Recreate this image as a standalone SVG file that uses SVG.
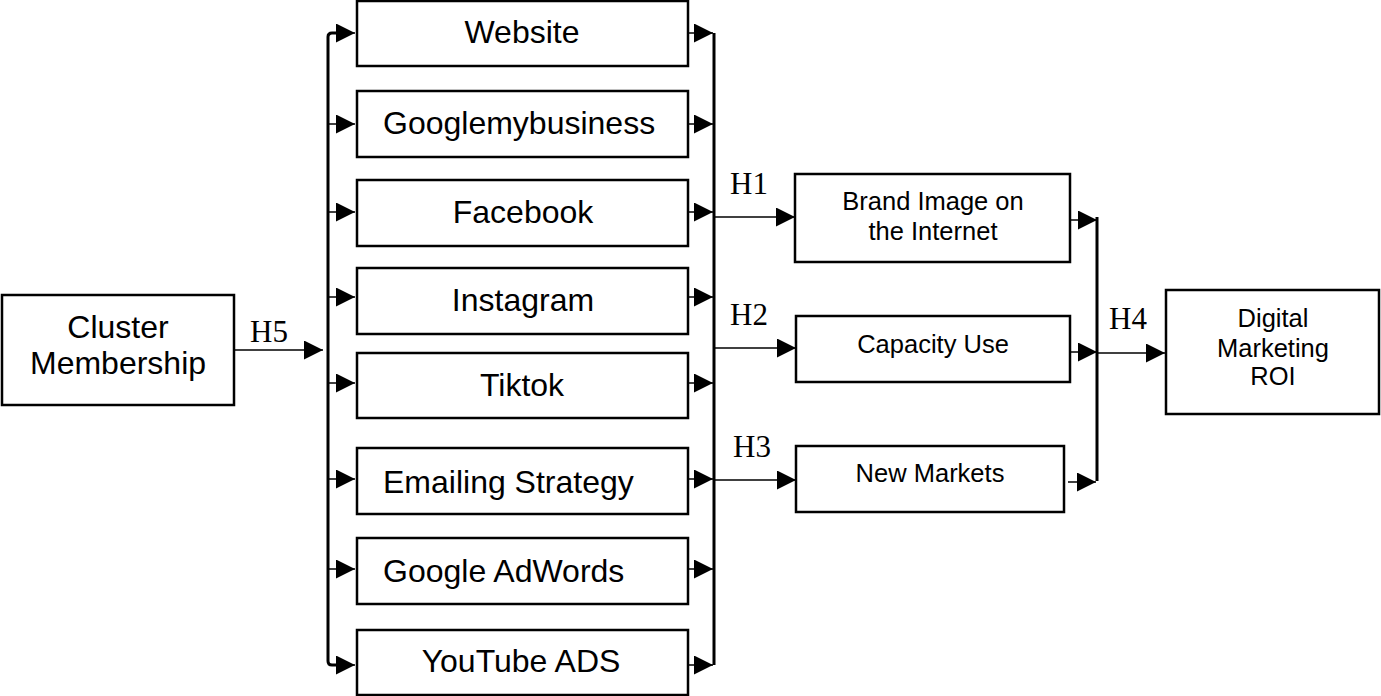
<svg xmlns="http://www.w3.org/2000/svg" width="1381" height="696" viewBox="0 0 1381 696">
<style>
.box{fill:#fff;stroke:#000;stroke-width:2.5}
.lbl{font-family:"Liberation Sans",Arial,sans-serif;fill:#000;text-anchor:middle}
.st{text-anchor:start}
.big{font-size:32px}
.mid{font-size:25.5px}
.h{font-family:"Liberation Serif","Times New Roman",serif;font-size:31px;fill:#000}
.bus{fill:none;stroke:#000;stroke-width:3}
.arr{fill:none;stroke:#000;stroke-width:1.5;marker-end:url(#ah)}
</style>
<defs>
<marker id="ah" markerUnits="userSpaceOnUse" markerWidth="19" markerHeight="19" refX="19" refY="9.5" orient="auto" viewBox="0 0 19 19">
<path d="M0,0 L19,9.5 L0,19 z" fill="#000"/>
</marker>
</defs>
<rect width="1381" height="696" fill="#fff"/>

<g id="connectors">
<path class="bus" d="M337,33 H332 Q328,33 328,37 V661 Q328,665 332,665 H337"/>
<line class="bus" x1="714" y1="33" x2="714" y2="665"/>
<line class="bus" x1="1097" y1="217" x2="1097" y2="481"/>
<line class="arr" x1="234" y1="350" x2="323" y2="350"/>
<line class="arr" x1="330" y1="33" x2="355" y2="33"/>
<line class="arr" x1="328" y1="124" x2="355" y2="124"/>
<line class="arr" x1="328" y1="212" x2="355" y2="212"/>
<line class="arr" x1="328" y1="297" x2="355" y2="297"/>
<line class="arr" x1="328" y1="383" x2="355" y2="383"/>
<line class="arr" x1="328" y1="479" x2="355" y2="479"/>
<line class="arr" x1="328" y1="569" x2="355" y2="569"/>
<line class="arr" x1="330" y1="665" x2="355" y2="665"/>
<line class="arr" x1="688" y1="33" x2="713" y2="33"/>
<line class="arr" x1="688" y1="124" x2="713" y2="124"/>
<line class="arr" x1="688" y1="212" x2="713" y2="212"/>
<line class="arr" x1="688" y1="297" x2="713" y2="297"/>
<line class="arr" x1="688" y1="383" x2="713" y2="383"/>
<line class="arr" x1="688" y1="479" x2="713" y2="479"/>
<line class="arr" x1="688" y1="569" x2="713" y2="569"/>
<line class="arr" x1="688" y1="665" x2="713" y2="665"/>
<line class="arr" x1="715" y1="217" x2="795" y2="217"/>
<line class="arr" x1="715" y1="348" x2="796" y2="348"/>
<line class="arr" x1="715" y1="480" x2="796" y2="480"/>
<line class="arr" x1="1070" y1="220" x2="1097" y2="220"/>
<line class="arr" x1="1070" y1="352" x2="1097" y2="352"/>
<line class="arr" x1="1068" y1="482" x2="1096" y2="482"/>
<line class="arr" x1="1098" y1="353" x2="1165" y2="353"/>
<text class="h" x="250" y="342">H5</text>
<text class="h" x="730" y="194">H1</text>
<text class="h" x="730" y="325">H2</text>
<text class="h" x="733" y="457">H3</text>
<text class="h" x="1109" y="329">H4</text>
</g>

<g id="cluster">
<rect class="box" x="2" y="295" width="232" height="110"/>
<text class="lbl big" x="118" y="338">Cluster</text>
<text class="lbl big" x="118" y="374">Membership</text>
</g>
<g id="website">
<rect class="box" x="357" y="1" width="331" height="65"/>
<text class="lbl big" x="522" y="43">Website</text>
</g>
<g id="googlemybusiness">
<rect class="box" x="357" y="91" width="331" height="66"/>
<text class="lbl big st" x="383" y="134">Googlemybusiness</text>
</g>
<g id="facebook">
<rect class="box" x="357" y="180" width="331" height="66"/>
<text class="lbl big" x="523" y="223">Facebook</text>
</g>
<g id="instagram">
<rect class="box" x="357" y="268" width="331" height="66"/>
<text class="lbl big" x="523" y="311">Instagram</text>
</g>
<g id="tiktok">
<rect class="box" x="357" y="353" width="331" height="65"/>
<text class="lbl big" x="522" y="396">Tiktok</text>
</g>
<g id="emailing">
<rect class="box" x="357" y="448" width="331" height="66"/>
<text class="lbl big st" x="383" y="493">Emailing Strategy</text>
</g>
<g id="adwords">
<rect class="box" x="357" y="538" width="331" height="66"/>
<text class="lbl big st" x="383" y="582">Google AdWords</text>
</g>
<g id="youtube">
<rect class="box" x="357" y="630" width="331" height="65"/>
<text class="lbl big" x="521" y="672">YouTube ADS</text>
</g>
<g id="brand">
<rect class="box" x="795" y="174" width="275" height="88"/>
<text class="lbl mid" x="933" y="210">Brand Image on</text>
<text class="lbl mid" x="933" y="240">the Internet</text>
</g>
<g id="capacity">
<rect class="box" x="796" y="316" width="274" height="66"/>
<text class="lbl mid" x="933" y="353">Capacity Use</text>
</g>
<g id="newmarkets">
<rect class="box" x="796" y="446" width="268" height="66"/>
<text class="lbl mid" x="930" y="482">New Markets</text>
</g>
<g id="roi">
<rect class="box" x="1166" y="290" width="213" height="124"/>
<text class="lbl mid" x="1273" y="327">Digital</text>
<text class="lbl mid" x="1273" y="357">Marketing</text>
<text class="lbl mid" x="1273" y="385">ROI</text>
</g>
</svg>
